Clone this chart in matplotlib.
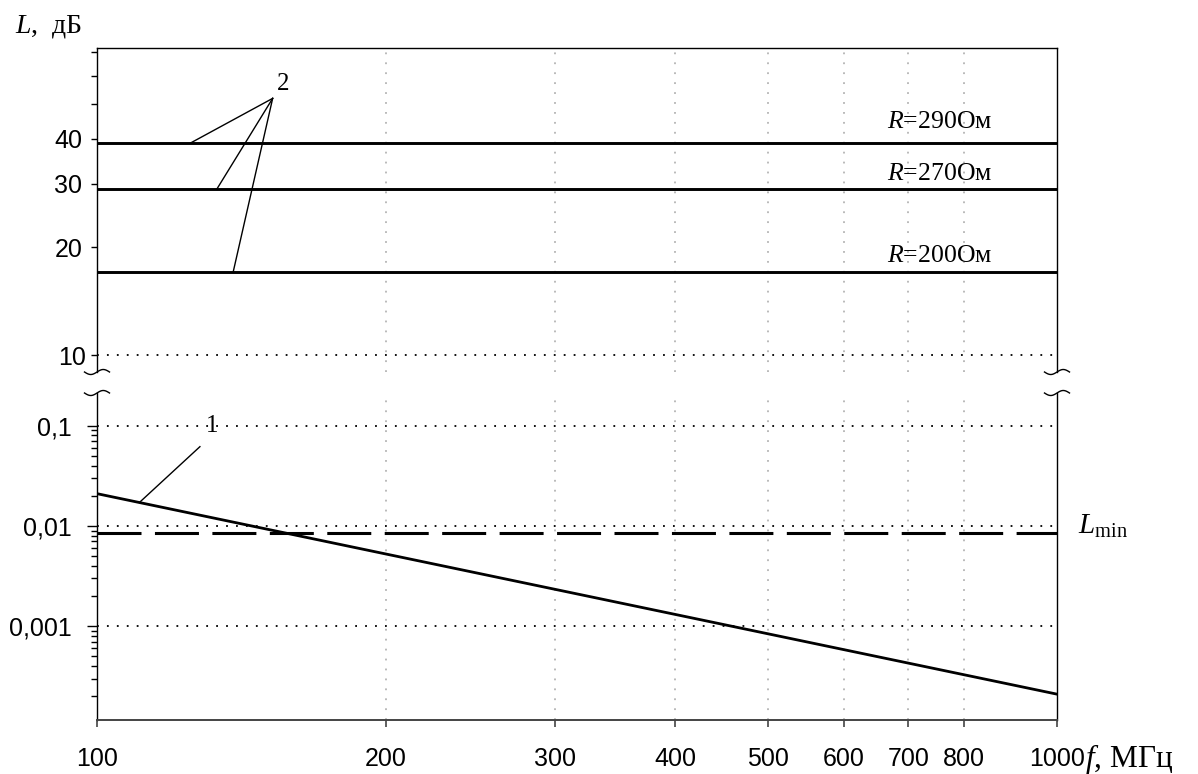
import numpy as np
import matplotlib
matplotlib.use("Agg")
import matplotlib.pyplot as plt
from matplotlib.ticker import FixedLocator, FixedFormatter, NullLocator
from matplotlib.lines import Line2D

plt.rcParams['font.family'] = ['Liberation Sans', 'DejaVu Sans']
plt.rcParams['mathtext.fontset'] = 'custom'
plt.rcParams['mathtext.rm'] = 'Liberation Serif'
plt.rcParams['mathtext.it'] = 'Liberation Serif:italic'
SERIF = ['Liberation Serif', 'DejaVu Serif']

# frequency axis, MHz
freq_ticks = [100, 200, 300, 400, 500, 600, 700, 800, 1000]
freq_labels = ['100', '200', '300', '400', '500', '600', '700', '800', '1000']
freq_grid = [200, 300, 400, 500, 600, 700, 800]

# curve 1: attenuation falling with frequency
freq_1 = [100, 1000]
atten_1 = [0.021, 0.00021]

# threshold level L_min
atten_min = 0.0086

# curves 2: constant levels for several resistances
resist = [290, 270, 200]
atten_2 = [39, 29, 17]

# vertical axis ticks
upper_ticks = [10, 20, 30, 40, 50, 60, 70]
upper_labels = ['10', '20', '30', '40', '', '', '']
lower_ticks = [0.1, 0.01, 0.001]
lower_labels = ['0,1', '0,01', '0,001']
lower_minor = [m * 10.0 ** e for e in (-4, -3, -2) for m in range(2, 10)]

W, H = 1198, 774
fig = plt.figure(figsize=(W / 100, H / 100), dpi=100)


def fx(px):
    return px / W


def fy(py):
    return 1 - py / H


X0, X1 = 97, 1057
TOP0, TOP1 = 48, 372
BOT0, BOT1 = 393, 720
ax_top = fig.add_axes([fx(X0), fy(TOP1), (X1 - X0) / W, (TOP1 - TOP0) / H])
ax_bot = fig.add_axes([fx(X0), fy(BOT1), (X1 - X0) / W, (BOT1 - BOT0) / H])

dotted = (0, (1, 4.5))
for ax in (ax_top, ax_bot):
    ax.set_xscale('log')
    ax.set_yscale('log')
    ax.set_xlim(100, 1000)
    for s in ax.spines.values():
        s.set_linewidth(1.0)
        s.set_color('black')
    for f in freq_grid:
        ax.axvline(f, color='#b4b4b4', lw=1.3, linestyle=dotted, zorder=1)

# ---- upper panel (R levels) ----
ax_top.set_ylim(8.97, 71.7)
ax_top.spines['bottom'].set_visible(False)
ax_top.xaxis.set_major_locator(NullLocator())
ax_top.xaxis.set_minor_locator(NullLocator())
ax_top.tick_params(axis='x', bottom=False, labelbottom=False)
ax_top.yaxis.set_major_locator(FixedLocator(upper_ticks))
ax_top.yaxis.set_major_formatter(FixedFormatter(upper_labels))
ax_top.yaxis.set_minor_locator(NullLocator())
ax_top.tick_params(axis='y', which='major', direction='out', length=4.5,
                   width=1.0, labelsize=18, pad=6.0)
t10 = ax_top.yaxis.get_major_ticks()[0]
t10.tick1line.set_markersize(7)
t10.set_pad(3.6)
ax_top.axhline(10, color='black', lw=1.3, linestyle=dotted, zorder=1)

for r, lev in zip(resist, atten_2):
    ax_top.plot([100, 1000], [lev, lev], color='black', lw=2.1,
                solid_capstyle='butt', zorder=3)

label_offsets = [10.5, 6.5, 7.2]
for r, lev, off in zip(resist, atten_2, label_offsets):
    ax_top.annotate(f"$R$={r}Ом", xy=(755, lev), xytext=(0, off),
                    textcoords='offset points', ha='center', va='baseline',
                    fontsize=18.5, family=SERIF)

# leaders for label "2"
apex = (152.4, 51.9)
leader_x = [125.2, 133.3, 138.6]
for lx, lev in zip(leader_x, atten_2):
    ax_top.plot([apex[0], lx], [apex[1], lev], color='black', lw=1.0, zorder=4)
fig.text(fx(283), fy(90), "2", fontsize=18, family=SERIF,
         ha='center', va='baseline')

# ---- lower panel (curve 1 and L_min) ----
ax_bot.set_ylim(1.16e-4, 0.212)
ax_bot.spines['top'].set_visible(False)
ax_bot.spines['bottom'].set_color('#444444')
ax_bot.spines['bottom'].set_linewidth(1.4)
ax_bot.xaxis.set_major_locator(FixedLocator(freq_ticks))
ax_bot.xaxis.set_major_formatter(FixedFormatter(freq_labels))
ax_bot.xaxis.set_minor_locator(NullLocator())
ax_bot.tick_params(axis='x', direction='out', length=5, width=1.2,
                   color='#444444', labelsize=18, pad=14.5)
ax_bot.yaxis.set_major_locator(FixedLocator(lower_ticks))
ax_bot.yaxis.set_major_formatter(FixedFormatter(lower_labels))
ax_bot.yaxis.set_minor_locator(FixedLocator(lower_minor))
ax_bot.tick_params(axis='y', which='major', direction='out', length=7,
                   width=1.0, labelsize=18, pad=11.5)
ax_bot.tick_params(axis='y', which='minor', direction='out', length=4.5,
                   width=1.0, labelleft=False)
for yv in lower_ticks:
    ax_bot.axhline(yv, color='black', lw=1.3, linestyle=dotted, zorder=1)

ax_bot.plot(freq_1, atten_1, color='black', lw=2.0, zorder=3)
ax_bot.plot([100, 1000], [atten_min, atten_min], color='black', lw=2.2,
            linestyle=(0, (14.4, 4.4)), zorder=3)

# leader for label "1", ending on the curve
lead_f = 110.7
lead_val = 10 ** np.interp(np.log10(lead_f), np.log10(freq_1), np.log10(atten_1))
ax_bot.plot([128, lead_f], [0.0618, lead_val], color='black', lw=1.0, zorder=4)
fig.text(fx(212), fy(432), "1", fontsize=18, family=SERIF,
         ha='center', va='baseline')

fig.text(fx(1078), fy(534), r"$L_{\mathrm{min}}$", fontsize=21,
         ha='left', va='baseline')

# axis titles
fig.text(fx(15), fy(33), r"$L$,  дБ", fontsize=20, family=SERIF,
         ha='left', va='baseline')
fig.text(fx(1085), fy(767), r"$f$, МГц", fontsize=22.5, family=SERIF,
         ha='left', va='baseline')

# break marks on both vertical axes
t = np.linspace(0, 1, 40)
bx = -12.5 + 25 * t
by = -2.5 * np.sin(2 * np.pi * t)
for xc in (X0, X1):
    for yc in (TOP1, BOT0):
        fig.add_artist(Line2D(fx(xc + bx), fy(yc - by), color='black',
                              lw=1.0, transform=fig.transFigure))

fig.savefig('out.png', dpi=100)
